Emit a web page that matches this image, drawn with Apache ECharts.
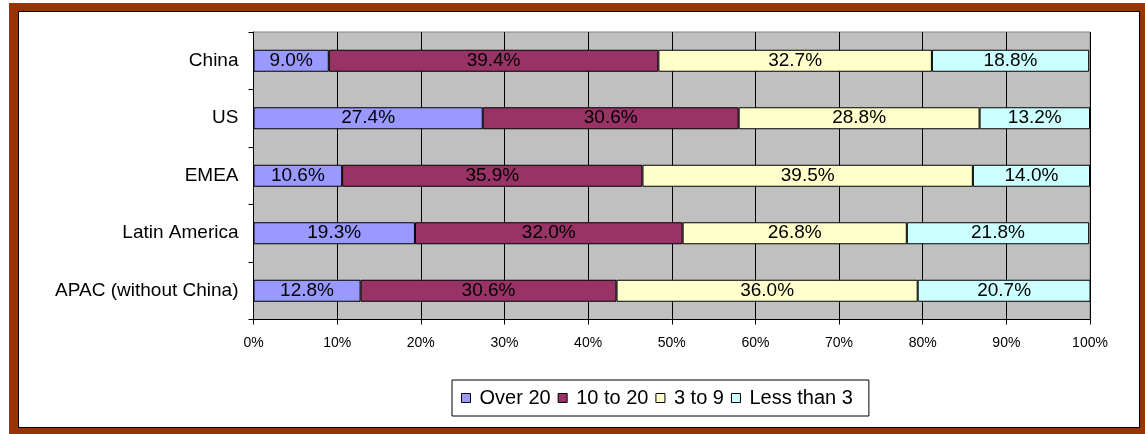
<!DOCTYPE html>
<html><head><meta charset="utf-8">
<script src="https://cdn.jsdelivr.net/npm/echarts@6/dist/echarts.min.js"></script>
<style>
html,body{margin:0;padding:0;background:#fff;}
#frame{position:absolute;left:9px;top:3px;width:1136px;height:431px;background:#993300;}
#inner{position:absolute;left:18px;top:11px;width:1120px;height:415px;background:#fff;border:1px solid #000;}
#chart{position:absolute;left:0;top:0;width:1145px;height:434px;}
</style></head>
<body>
<div id="frame"></div><div id="inner"></div>
<div id="chart"></div>
<script>
const categories = ['APAC (without China)', 'Latin America', 'EMEA', 'US', 'China'];
const seriesNames = ['Over 20', '10 to 20', '3 to 9', 'Less than 3'];
const over20 = [12.8, 19.3, 10.6, 27.4, 9.0];
const tenTo20 = [30.6, 32.0, 35.9, 30.6, 39.4];
const threeTo9 = [36.0, 26.8, 39.5, 28.8, 32.7];
const lessThan3 = [20.7, 21.8, 14.0, 13.2, 18.8];
const xTicks = ['0%','10%','20%','30%','40%','50%','60%','70%','80%','90%','100%'];
const colors = ['#9999FF', '#993366', '#FFFFCC', '#CCFFFF'];
const values = [over20, tenTo20, threeTo9, lessThan3];

const chart = echarts.init(document.getElementById('chart'), null, {renderer:'canvas'});
const font = 'Liberation Sans, Arial, sans-serif';
chart.setOption({
  animation:false,
  backgroundColor:'transparent',
  textStyle:{fontFamily:font},
  grid:{left:253.5, right:55, top:32, bottom:114.5, show:true, backgroundColor:'#C0C0C0', borderColor:'#808080', borderWidth:1},
  legend:{
    data:seriesNames, left:452, top:380, orient:'horizontal',
    backgroundColor:'#fff', borderColor:'#000', borderWidth:1, borderRadius:0,
    padding:[8,16,8,9], itemGap:7, itemWidth:9, itemHeight:9, icon:'rect',
    textStyle:{fontSize:20, color:'#000', fontFamily:font, padding:[0,0,0,4]},
    itemStyle:{borderColor:'#000', borderWidth:1}
  },
  xAxis:{
    type:'value', min:0, max:100, interval:10,
    axisLine:{show:true, lineStyle:{color:'#000'}},
    axisTick:{show:true, length:5, lineStyle:{color:'#000'}},
    splitLine:{show:true, lineStyle:{color:'#000', width:1}},
    axisLabel:{fontSize:14, color:'#000', margin:17, formatter:(v)=>xTicks[Math.round(v/10)]}
  },
  yAxis:{
    type:'category', data:categories,
    axisLine:{show:true, lineStyle:{color:'#000'}},
    axisTick:{show:true, length:5, lineStyle:{color:'#000'}},
    axisLabel:{fontSize:19, color:'#000', margin:15}
  },
  series: seriesNames.map((name,i)=>({
    name, type:'bar', stack:'total', barWidth:22,
    data: values[i],
    itemStyle:{color:colors[i], borderColor:'#000', borderWidth:1},
    label:{show:true, position:'inside', fontSize:19, color:'#000', fontFamily:font,
      formatter:(p)=>p.value.toFixed(1)+'%'}
  }))
});
</script>
</body></html>
